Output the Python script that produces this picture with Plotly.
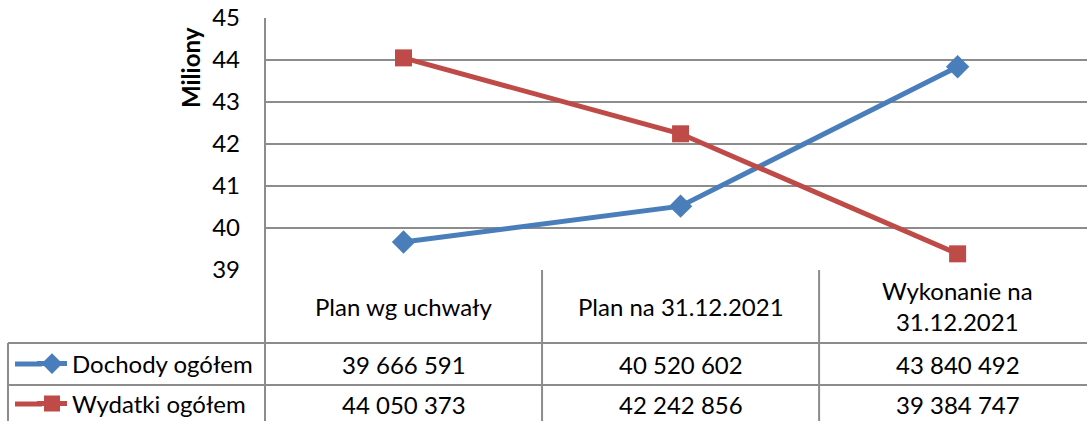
import plotly.graph_objects as go

categories = ["Plan wg uchwały", "Plan na 31.12.2021", "Wykonanie na<br>31.12.2021"]
dochody = [39666591, 40520602, 43840492]
wydatki = [44050373, 42242856, 39384747]
y_ticks = [39, 40, 41, 42, 43, 44, 45]

BLUE = "#4a7ebb"
RED = "#be4b48"
GRID = "#8c8c8c"
FONT = "Lato"
FS = 24


def fmt(v):
    return f"{v:,}".replace(",", " ")


xs = list(range(len(categories)))

fig = go.Figure()
fig.add_trace(go.Scatter(
    x=xs, y=[v / 1e6 for v in dochody], name="Dochody ogółem",
    mode="lines+markers",
    line=dict(color=BLUE, width=5),
    marker=dict(symbol="diamond", size=18, color=BLUE),
    legend="legend",
))
fig.add_trace(go.Scatter(
    x=xs, y=[v / 1e6 for v in wydatki], name="Wydatki ogółem",
    mode="lines+markers",
    line=dict(color=RED, width=5),
    marker=dict(symbol="square", size=17, color=RED),
    legend="legend2",
))

# plot area: 265..1087 x 18..270 px
ph = 252.0
pw = 822.0


def py(pix):
    return (270 - pix) / ph


def px(pix):
    return (pix - 265) / pw


row_lines = [343, 385]
shapes = []
shapes.append(dict(type="line", xref="paper", yref="paper", x0=0, x1=0,
                   y0=1, y1=py(425), line=dict(color=GRID, width=2)))
for b in [0.5, 1.5, 2.5]:
    shapes.append(dict(type="line", xref="x", yref="paper", x0=b, x1=b,
                       y0=0, y1=py(425), line=dict(color=GRID, width=2)))
for r in row_lines:
    shapes.append(dict(type="line", xref="paper", yref="paper", x0=px(8), x1=1.02,
                       y0=py(r), y1=py(r), line=dict(color=GRID, width=2)))
shapes.append(dict(type="line", xref="paper", yref="paper", x0=px(8), x1=px(8),
                   y0=py(343), y1=py(425), line=dict(color=GRID, width=2)))
# longer legend key lines, as in the data table of the original
for yy, col in [(364, BLUE), (404, RED)]:
    shapes.append(dict(type="line", xref="paper", yref="paper", x0=px(15), x1=px(42),
                       y0=py(yy), y1=py(yy), line=dict(color=col, width=5)))

annotations = []
for i, c in enumerate(categories):
    annotations.append(dict(x=i, y=py(306), xref="x", yref="paper", text=c,
                            showarrow=False, font=dict(size=FS, color="#000"),
                            xanchor="center", yanchor="middle"))
    annotations.append(dict(x=i, y=py(364), xref="x", yref="paper", text=fmt(dochody[i]),
                            showarrow=False, font=dict(size=FS, color="#000"),
                            xanchor="center", yanchor="middle"))
    annotations.append(dict(x=i, y=py(404), xref="x", yref="paper", text=fmt(wydatki[i]),
                            showarrow=False, font=dict(size=FS, color="#000"),
                            xanchor="center", yanchor="middle"))
# axis title sits near the top of the value axis
annotations.append(dict(x=px(190), y=py(68), xref="paper", yref="paper",
                        text="<b>Miliony</b>", textangle=-90, showarrow=False,
                        font=dict(size=FS, color="#000"),
                        xanchor="center", yanchor="middle"))

leg_common = dict(xanchor="left", yanchor="middle", bgcolor="rgba(0,0,0,0)",
                  font=dict(size=FS, color="#000", family=FONT),
                  itemwidth=30, borderwidth=0)

fig.update_layout(
    width=1087, height=421,
    margin=dict(l=265, r=0, t=18, b=151, pad=0, autoexpand=False),
    paper_bgcolor="white", plot_bgcolor="white",
    font=dict(family=FONT, size=FS, color="#000"),
    showlegend=True,
    legend=dict(x=px(32), y=py(364), **leg_common),
    legend2=dict(x=px(32), y=py(404), **leg_common),
    xaxis=dict(range=[-0.5, 2.467], showticklabels=False, showgrid=False,
               zeroline=False, fixedrange=True),
    yaxis=dict(range=[39, 45], tickvals=y_ticks, showgrid=True, gridcolor=GRID,
               gridwidth=2, zeroline=False, ticks="", ticklabelstandoff=24,
               tickfont=dict(size=FS)),
    shapes=shapes,
    annotations=annotations,
)

fig.write_html("out.html", config={"displayModeBar": False},
               post_script="document.body.style.margin='0';")
